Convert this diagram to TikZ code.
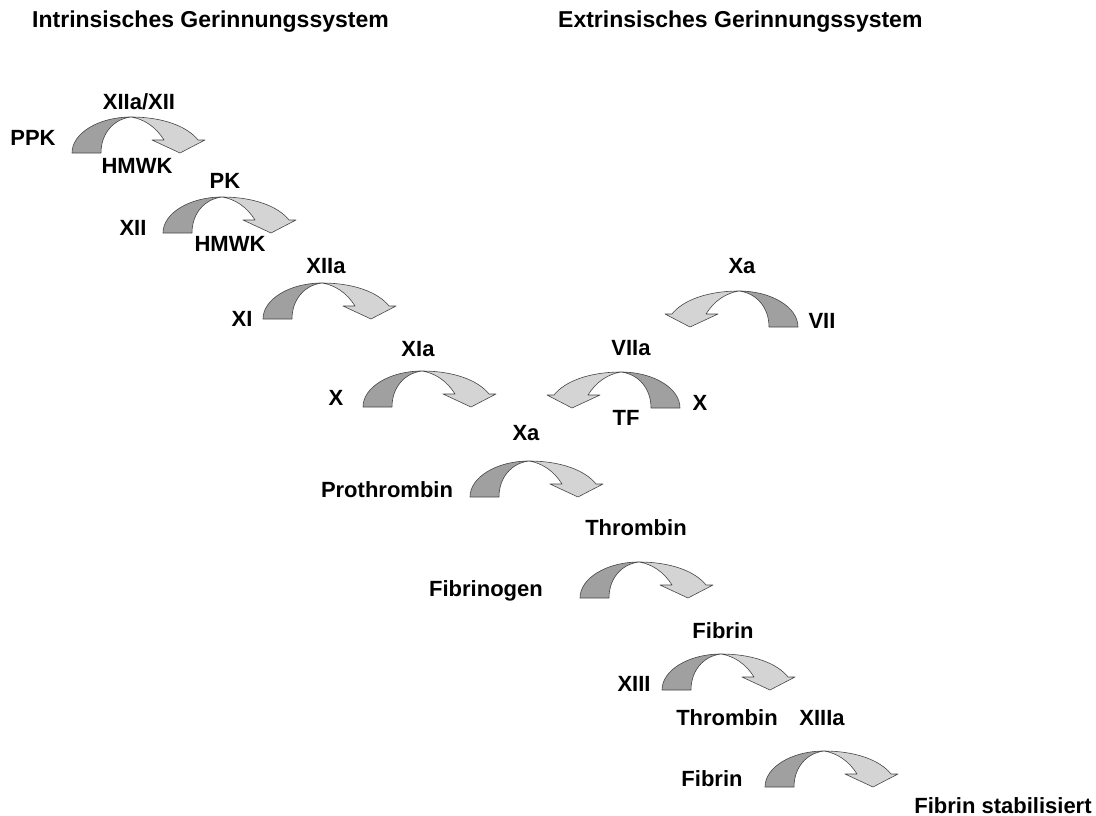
\documentclass[tikz,border=0pt]{standalone}
\usepackage{fontspec}
\setmainfont{Liberation Sans}
\begin{document}
\begin{tikzpicture}[x=1pt,y=-1pt,
  lbl/.style={font=\fontsize{22}{26}\selectfont\bfseries, inner sep=0pt, anchor=base},
  ttl/.style={font=\fontsize{23}{27}\selectfont\bfseries, inner sep=0pt, anchor=base west},
  darkpart/.style={fill=arrdark, draw=arredge, line width=0.6pt, line join=round},
  lightpart/.style={fill=arrlight, draw=arredge, line width=0.6pt, line join=round},
  curvarrow/.pic={
    \path[lightpart] (59,-36) .. controls (90,-36) and (115,-27) .. (126,-13)
      -- (133,-13) -- (108,0) -- (80,-13) -- (92,-13)
      .. controls (84,-26) and (72,-34) .. (59,-36) -- cycle;
    \path[darkpart] (0,0) .. controls (0,-20) and (27,-36) .. (59,-36)
      .. controls (42,-34) and (29,-20) .. (29,0) -- cycle;
  }]
\definecolor{arrdark}{RGB}{160,160,160}
\definecolor{arrlight}{RGB}{212,212,212}
\definecolor{arredge}{RGB}{70,70,70}
\useasboundingbox (0,0) rectangle (1096,816);

% titles
\node[ttl] (t1) at (32,28) {Intrinsisches Gerinnungssystem};
\node[ttl] (t2) at (558,28) {Extrinsisches Gerinnungssystem};

% arrows pointing right
\pic at (72,153) {curvarrow};
\pic at (163,233) {curvarrow};
\pic at (263,319) {curvarrow};
\pic at (363,407) {curvarrow};
\pic at (470,497) {curvarrow};
\pic at (580,598) {curvarrow};
\pic at (662,690) {curvarrow};
\pic at (765,787) {curvarrow};
% arrows pointing left
\pic[xscale=-1] at (798,327) {curvarrow};
\pic[xscale=-1] at (680,408) {curvarrow};

% labels
\node[lbl] (l1) at (139,110) {XIIa/XII};
\node[lbl] (l2) at (33,146) {PPK};
\node[lbl] (l3) at (137,173) {HMWK};
\node[lbl] (l4) at (225,188) {PK};
\node[lbl] (l5) at (133,235) {XII};
\node[lbl] (l6) at (230,251) {HMWK};
\node[lbl] (l7) at (326,273) {XIIa};
\node[lbl] (l8) at (242,326) {XI};
\node[lbl] (l9) at (742,273) {Xa};
\node[lbl] (l10) at (822,328) {VII};
\node[lbl] (l11) at (418,356) {XIa};
\node[lbl] (l12) at (631,355) {VIIa};
\node[lbl] (l13) at (336,405) {X};
\node[lbl] (l14) at (700,410) {X};
\node[lbl] (l15) at (626,425) {TF};
\node[lbl] (l16) at (526,440) {Xa};
\node[lbl] (l17) at (387,497) {Prothrombin};
\node[lbl] (l18) at (636,535) {Thrombin};
\node[lbl] (l19) at (486,596) {Fibrinogen};
\node[lbl] (l20) at (723,638) {Fibrin};
\node[lbl] (l21) at (634,691) {XIII};
\node[lbl] (l22) at (727,725) {Thrombin};
\node[lbl] (l23) at (822,725) {XIIIa};
\node[lbl] (l24) at (712,786) {Fibrin};
\node[lbl] (l25) at (1003,813) {Fibrin stabilisiert};
\end{tikzpicture}
\end{document}
